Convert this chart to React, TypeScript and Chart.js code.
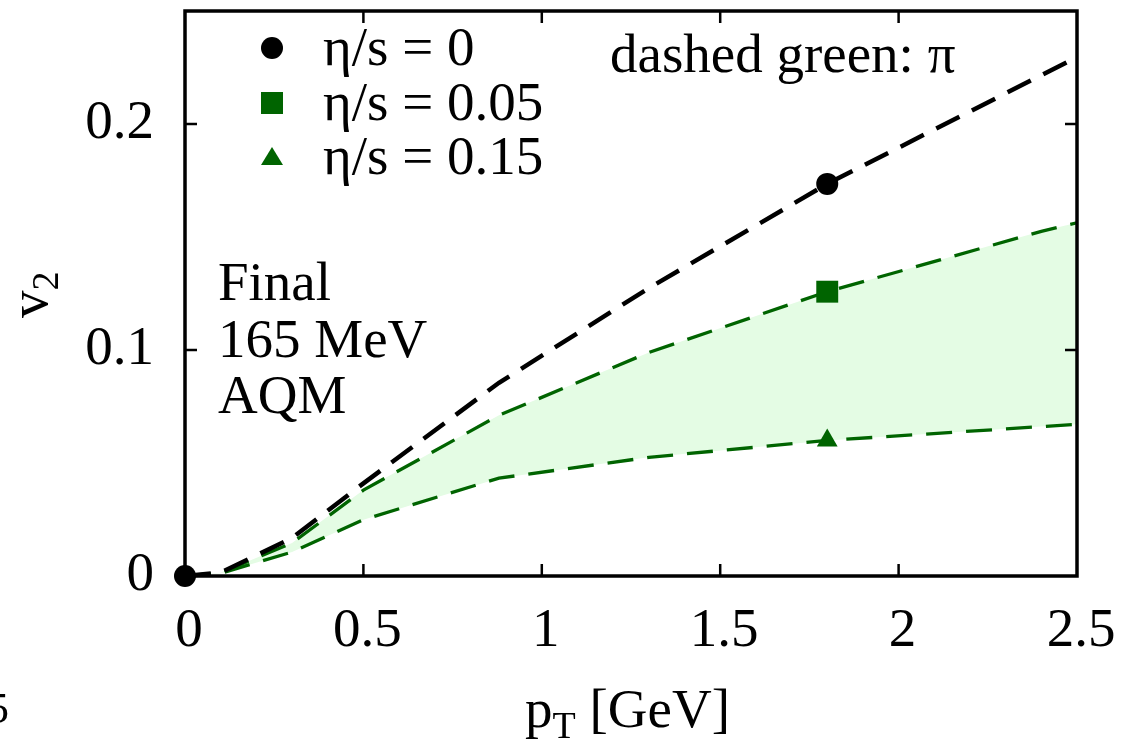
import React, { useEffect, useRef } from 'react';
import { Chart, registerables } from 'chart.js';

Chart.register(...registerables);

// ---- data ----
const pT = [0, 0.1, 0.3, 0.5, 0.88, 1.3, 1.8, 2.4, 2.5];
const v2Eta0 = [0, 0.0015, 0.0168, 0.041, 0.0855, 0.1274, 0.1735, 0.2216, 0.2296];
const v2Eta005 = [0, 0.0014, 0.0146, 0.038, 0.0711, 0.0989, 0.1258, 0.1525, 0.1563];
const v2Eta015 = [0, 0.0012, 0.0106, 0.0249, 0.0433, 0.0525, 0.06, 0.0661, 0.0671];
const markerIdxEta0 = [0, 6];
const markerIdxVisc = [6];

const legendLabels = ['η/s = 0', 'η/s = 0.05', 'η/s = 0.15'];
const xTickLabels = ['0', '0.5', '1', '1.5', '2', '2.5'];
const yTickLabels = ['0', null, '0.1', null, '0.2', null];
const noteLines = ['Final', '165 MeV', 'AQM'];
const curveNote = 'dashed green: π';
const xTitleMain = 'p';
const xTitleSub = 'T';
const xTitleRest = ' [GeV]';
const yTitleMain = 'v';
const yTitleSub = '2';
const strayText = '5';

const GREEN = '#006400';
const FILL = '#e4fce4';
const FONT = '"Liberation Serif", "Times New Roman", serif';
const FS = 55;

const overlayPlugin = {
  id: 'overlay',
  afterDraw(chart: any) {
    const ctx = chart.ctx as CanvasRenderingContext2D;
    const { left, right, top, bottom } = chart.chartArea;
    const xs = chart.scales.x;
    const ys = chart.scales.y;
    ctx.save();

    // inward ticks, mirrored
    ctx.strokeStyle = '#000';
    ctx.lineWidth = 2.5;
    const line = (x1: number, y1: number, x2: number, y2: number) => {
      ctx.beginPath();
      ctx.moveTo(x1, y1);
      ctx.lineTo(x2, y2);
      ctx.stroke();
    };
    xs.ticks.forEach((t: any) => {
      const px = xs.getPixelForValue(t.value);
      if (px <= left + 2 || px >= right - 2) return;
      line(px, bottom, px, bottom - 12);
      line(px, top, px, top + 12);
    });
    ys.ticks.forEach((t: any) => {
      const py = ys.getPixelForValue(t.value);
      if (py <= top + 2 || py >= bottom - 2) return;
      line(left, py, left + 12, py);
      line(right, py, right - 12, py);
    });

    // frame
    ctx.lineWidth = 3.5;
    ctx.strokeRect(left, top, right - left, bottom - top);

    // legend
    ctx.fillStyle = '#000';
    ctx.font = `${FS}px ${FONT}`;
    ctx.textAlign = 'left';
    ctx.textBaseline = 'alphabetic';
    const mx = 272;
    const rowsMarkerY = [48, 103, 157];
    const rowsBase = [65, 119.5, 174];
    ctx.beginPath();
    ctx.arc(mx, rowsMarkerY[0], 11, 0, Math.PI * 2);
    ctx.fill();
    ctx.fillStyle = GREEN;
    ctx.fillRect(mx - 11, rowsMarkerY[1] - 11, 22, 22);
    ctx.beginPath();
    ctx.moveTo(mx, rowsMarkerY[2] - 10);
    ctx.lineTo(mx + 11, rowsMarkerY[2] + 8);
    ctx.lineTo(mx - 11, rowsMarkerY[2] + 8);
    ctx.closePath();
    ctx.fill();
    ctx.fillStyle = '#000';
    legendLabels.forEach((l, i) => ctx.fillText(l, 323, rowsBase[i]));

    // notes
    ctx.fillText(curveNote, 610, 72);
    const noteBase = [300, 357, 413];
    noteLines.forEach((l, i) => ctx.fillText(l, 218, noteBase[i]));

    // x title
    ctx.font = `${FS}px ${FONT}`;
    let x = 525;
    ctx.fillText(xTitleMain, x, 727);
    x += ctx.measureText(xTitleMain).width;
    ctx.font = `38px ${FONT}`;
    ctx.fillText(xTitleSub, x, 738);
    x += ctx.measureText(xTitleSub).width;
    ctx.font = `${FS}px ${FONT}`;
    ctx.fillText(xTitleRest, x, 727);

    // y title (rotated)
    ctx.save();
    ctx.translate(47, 318);
    ctx.rotate(-Math.PI / 2);
    ctx.font = `${FS}px ${FONT}`;
    ctx.fillText(yTitleMain, 0, 0);
    const vw = ctx.measureText(yTitleMain).width;
    ctx.font = `38px ${FONT}`;
    ctx.fillText(yTitleSub, vw, 11);
    ctx.restore();

    // stray glyph at the left edge
    ctx.font = `44px ${FONT}`;
    ctx.textAlign = 'right';
    ctx.fillText(strayText, 9, 723);

    ctx.restore();
  },
};

export default function App() {
  const ref = useRef<HTMLCanvasElement | null>(null);

  useEffect(() => {
    if (!ref.current) return;
    const mk = (ys: number[]) => pT.map((x, i) => ({ x, y: ys[i] }));
    const tickFont = { family: FONT, size: FS };
    const chart = new Chart(ref.current, {
      type: 'line',
      data: {
        datasets: [
          {
            label: legendLabels[0],
            data: mk(v2Eta0),
            borderColor: '#000',
            backgroundColor: '#000',
            borderWidth: 4.5,
            borderDash: [26, 14],
            fill: false,
            tension: 0,
            clip: false,
            pointStyle: 'circle',
            pointRadius: (c: any) => (markerIdxEta0.includes(c.dataIndex) ? 11 : 0),
            pointBorderWidth: 0,
            pointBackgroundColor: '#000',
          },
          {
            label: legendLabels[1],
            data: mk(v2Eta005),
            borderColor: GREEN,
            backgroundColor: FILL,
            borderWidth: 3.3,
            borderDash: [26, 14],
            fill: '+1',
            tension: 0,
            clip: false,
            pointStyle: 'rect',
            pointRadius: (c: any) => (markerIdxVisc.includes(c.dataIndex) ? 15.5 : 0),
            pointBorderWidth: 0,
            pointBackgroundColor: GREEN,
          },
          {
            label: legendLabels[2],
            data: mk(v2Eta015),
            borderColor: GREEN,
            backgroundColor: GREEN,
            borderWidth: 3.3,
            borderDash: [26, 14],
            fill: false,
            tension: 0,
            clip: false,
            pointStyle: 'triangle',
            pointRadius: (c: any) => (markerIdxVisc.includes(c.dataIndex) ? 12 : 0),
            pointBorderWidth: 0,
            pointBackgroundColor: GREEN,
          },
        ],
      },
      options: {
        responsive: false,
        devicePixelRatio: 1,
        animation: false,
        events: [],
        layout: { padding: { left: 0, top: 10, right: 44, bottom: 0 } },
        plugins: {
          legend: { display: false },
          tooltip: { enabled: false },
          filler: { drawTime: 'beforeDatasetsDraw' },
        },
        scales: {
          x: {
            type: 'linear',
            min: 0,
            max: 2.5,
            grid: { display: false, drawTicks: false },
            border: { display: false },
            ticks: {
              stepSize: 0.5,
              font: tickFont,
              color: '#000',
              padding: 23,
              labelOffset: 4,
              maxRotation: 0,
              autoSkip: false,
              callback: (_v: any, i: number) => xTickLabels[i] ?? null,
            },
            afterFit: (s: any) => {
              s.height = 164;
              s.paddingLeft = 0;
              s.paddingRight = 0;
            },
          },
          y: {
            type: 'linear',
            min: 0,
            max: 0.25,
            grid: { display: false, drawTicks: false },
            border: { display: false },
            ticks: {
              stepSize: 0.05,
              font: tickFont,
              color: '#000',
              padding: 31,
              autoSkip: false,
              callback: (_v: any, i: number) => yTickLabels[i] ?? null,
            },
            afterFit: (s: any) => {
              s.width = 185;
              s.paddingTop = 0;
              s.paddingBottom = 0;
            },
          },
        },
      } as any,
      plugins: [overlayPlugin],
    });
    return () => chart.destroy();
  }, []);

  return (
    <div style={{ position: 'fixed', left: 0, top: 0, width: 1121, height: 740, background: '#fff' }}>
      <canvas ref={ref} width={1121} height={740} style={{ display: 'block' }} />
    </div>
  );
}
